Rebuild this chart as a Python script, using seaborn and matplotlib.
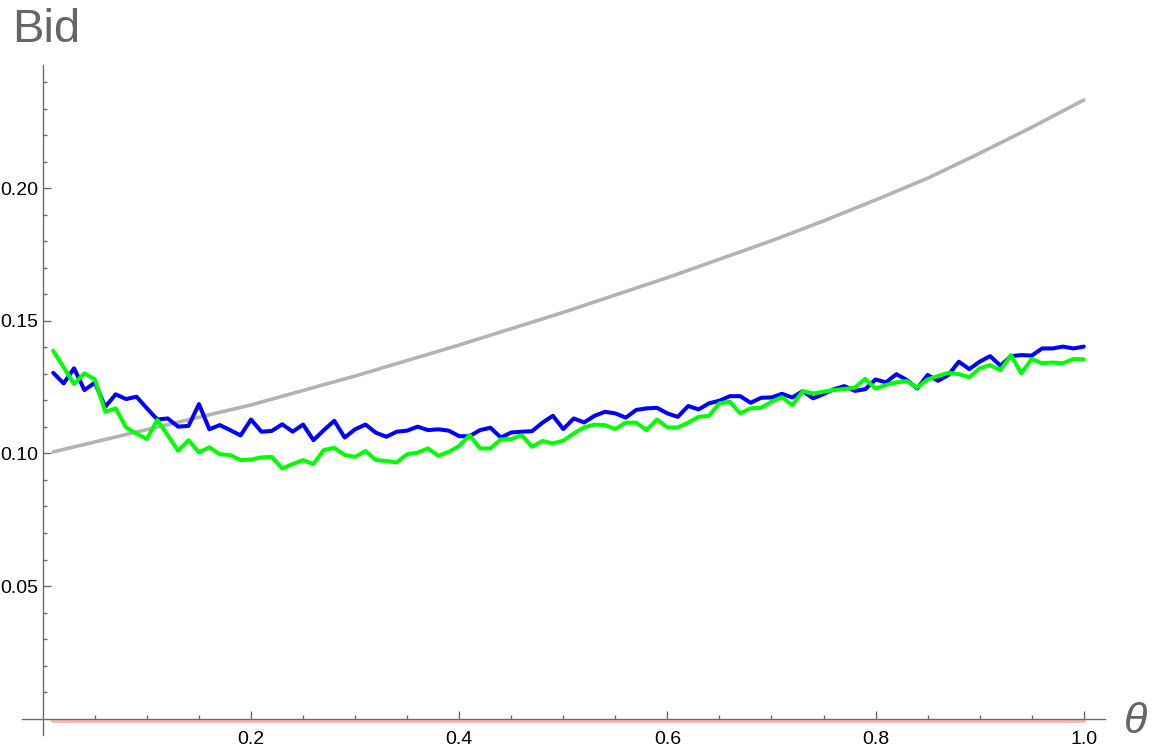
import numpy as np
import pandas as pd
import matplotlib
matplotlib.use('Agg')
import matplotlib.pyplot as plt
import seaborn as sns

# theta grid for the two simulated series
theta = np.round(np.arange(1, 101) / 100, 2)

blue = [0.1304, 0.1264, 0.1321, 0.1239, 0.1267, 0.1176, 0.1223, 0.1205, 0.1214, 0.1170,
        0.1128, 0.1132, 0.1101, 0.1104, 0.1186, 0.1091, 0.1107, 0.1088, 0.1068, 0.1128,
        0.1082, 0.1085, 0.1110, 0.1082, 0.1109, 0.1050, 0.1088, 0.1123, 0.1060, 0.1091,
        0.1109, 0.1078, 0.1063, 0.1082, 0.1086, 0.1101, 0.1088, 0.1091, 0.1086, 0.1065,
        0.1065, 0.1088, 0.1097, 0.1060, 0.1079, 0.1082, 0.1084, 0.1116, 0.1142, 0.1092,
        0.1132, 0.1117, 0.1142, 0.1157, 0.1151, 0.1135, 0.1164, 0.1170, 0.1172, 0.1151,
        0.1138, 0.1179, 0.1166, 0.1189, 0.1199, 0.1216, 0.1216, 0.1191, 0.1210, 0.1211,
        0.1225, 0.1211, 0.1235, 0.1208, 0.1224, 0.1242, 0.1254, 0.1236, 0.1242, 0.1279,
        0.1268, 0.1299, 0.1277, 0.1245, 0.1296, 0.1274, 0.1296, 0.1346, 0.1318, 0.1346,
        0.1367, 0.1331, 0.1367, 0.1371, 0.1369, 0.1396, 0.1396, 0.1403, 0.1396, 0.1403]

green = [0.1387, 0.1325, 0.1262, 0.1302, 0.1279, 0.1157, 0.1170, 0.1098, 0.1075, 0.1054,
         0.1126, 0.1069, 0.1010, 0.1050, 0.1004, 0.1023, 0.0997, 0.0994, 0.0975, 0.0977,
         0.0985, 0.0987, 0.0943, 0.0960, 0.0975, 0.0960, 0.1013, 0.1021, 0.0994, 0.0987,
         0.1009, 0.0975, 0.0972, 0.0966, 0.0997, 0.1003, 0.1019, 0.0991, 0.1006, 0.1028,
         0.1069, 0.1019, 0.1019, 0.1053, 0.1054, 0.1069, 0.1025, 0.1047, 0.1038, 0.1048,
         0.1075, 0.1098, 0.1109, 0.1107, 0.1092, 0.1116, 0.1116, 0.1088, 0.1128, 0.1098,
         0.1098, 0.1116, 0.1138, 0.1142, 0.1189, 0.1195, 0.1151, 0.1170, 0.1172, 0.1195,
         0.1212, 0.1182, 0.1235, 0.1226, 0.1233, 0.1239, 0.1243, 0.1248, 0.1281, 0.1245,
         0.1258, 0.1268, 0.1273, 0.1248, 0.1279, 0.1292, 0.1304, 0.1299, 0.1287, 0.1321,
         0.1333, 0.1314, 0.1371, 0.1302, 0.1356, 0.1340, 0.1343, 0.1340, 0.1356, 0.1355]

# smooth reference curve, read at a coarser grid
gray_theta = [0.01, 0.1, 0.2, 0.3, 0.4, 0.5, 0.6, 0.7, 0.75, 0.8, 0.85, 0.9, 0.95, 1.0]
gray = [0.1006, 0.1090, 0.1183, 0.1292, 0.1409, 0.1532, 0.1663, 0.1802, 0.1877,
        0.1956, 0.2038, 0.2132, 0.2230, 0.2333]

# flat series lying on the axis
red_theta = [0.01, 1.0]
red = [-0.0009, -0.0009]

x_ticks = [0.2, 0.4, 0.6, 0.8, 1.0]
x_labels = ['0.2', '0.4', '0.6', '0.8', '1.0']
y_ticks = [0.05, 0.10, 0.15, 0.20]
y_labels = ['0.05', '0.10', '0.15', '0.20']

sns.set_theme(style='white')
plt.rcParams['font.family'] = ['Liberation Sans', 'DejaVu Sans']

fig = plt.figure(figsize=(11.52, 7.56), dpi=100)
ax = fig.add_axes([22 / 1152, 1 - 734.5 / 756, 1082.6 / 1152, 669.5 / 756])

sns.lineplot(x=red_theta, y=red, color='#ffb3b3', lw=2.8, ax=ax, zorder=1)
sns.lineplot(x=gray_theta, y=gray, color='#b3b3b3', lw=2.6, ax=ax)
sns.lineplot(x=theta, y=blue, color='#0000ff', lw=2.9, ax=ax)
sns.lineplot(x=theta, y=green, color='#00ff00', lw=2.9, ax=ax)

ax.set_xlim(-0.02, 1.02)
ax.set_ylim(-0.006, 0.2465)

# Mathematica-style axes crossing at the origin
for side in ['top', 'right']:
    ax.spines[side].set_visible(False)
for side in ['left', 'bottom']:
    ax.spines[side].set_position(('data', 0))
    ax.spines[side].set_color('#6b6b6b')
    ax.spines[side].set_linewidth(1.0)

ax.set_xticks(x_ticks)
ax.set_xticklabels(x_labels)
ax.set_xticks([0.05, 0.1, 0.15, 0.25, 0.3, 0.35, 0.45, 0.5, 0.55, 0.65, 0.7, 0.75,
               0.85, 0.9, 0.95], minor=True)
ax.set_yticks(y_ticks)
ax.set_yticklabels(y_labels)
ax.set_yticks([0.01, 0.02, 0.03, 0.04, 0.06, 0.07, 0.08, 0.09, 0.11, 0.12, 0.13,
               0.14, 0.16, 0.17, 0.18, 0.19, 0.21, 0.22, 0.23, 0.24], minor=True)

ax.tick_params(which='both', direction='in', color='#6b6b6b', width=1.0,
               bottom=True, left=True, labelsize=14, labelcolor='black')
ax.tick_params(which='major', length=5.5)
ax.tick_params(which='minor', length=3)
ax.tick_params(axis='x', which='major', pad=9)
ax.tick_params(axis='y', which='major', pad=3.5)
ax.set_xlabel('')
ax.set_ylabel('')

fig.text(12 / 1152, 1 - 8 / 756, 'Bid', fontsize=34, color='#666666',
         ha='left', va='top')
fig.text(1136 / 1152, 1 - 722 / 756, 'θ', fontsize=31, color='#666666',
         style='italic', ha='center', va='center')

fig.savefig('out.png', dpi=100, facecolor='white')
